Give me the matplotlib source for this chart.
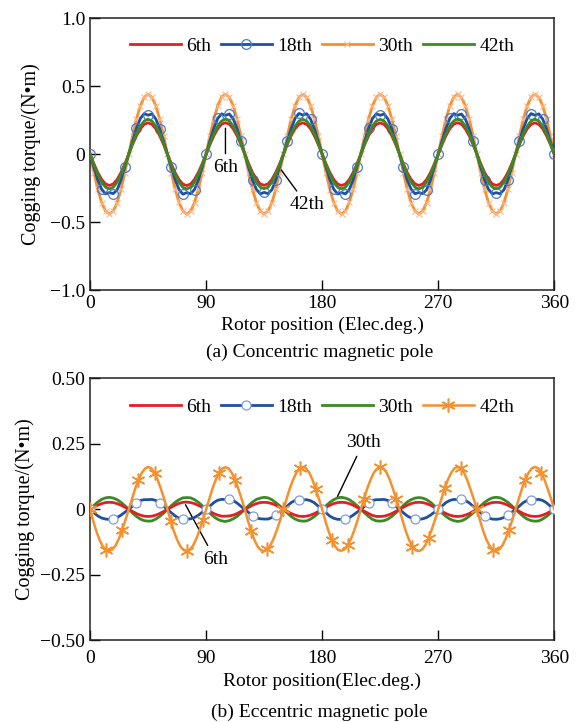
import matplotlib.pyplot as plt
import numpy as np

plt.rcParams['font.family'] = ['Liberation Serif', 'DejaVu Serif']

# rotor position grids (electrical degrees)
angle_3 = np.arange(0, 361, 3)
angle_25 = np.arange(0, 360.1, 2.5)

# (a) concentric magnetic pole, sampled every 3 deg
conc_6th = [
    0, -0.071, -0.135, -0.186, -0.219, -0.230, -0.219, -0.186, -0.135, -0.071, 0, 0.071, 0.135, 0.186, 0.219, 0.230, 0.219, 0.186, 0.135, 0.071,
    0, -0.071, -0.136, -0.187, -0.220, -0.231, -0.219, -0.185, -0.134, -0.070, 0, 0.071, 0.135, 0.186, 0.220, 0.231, 0.220, 0.186, 0.135, 0.071,
    0, -0.070, -0.135, -0.186, -0.219, -0.229, -0.219, -0.186, -0.135, -0.071, 0, 0.072, 0.136, 0.187, 0.219, 0.230, 0.219, 0.186, 0.134, 0.070,
    0, -0.071, -0.135, -0.186, -0.220, -0.230, -0.220, -0.187, -0.135, -0.071, 0, 0.071, 0.135, 0.186, 0.219, 0.229, 0.219, 0.186, 0.135, 0.071,
    0, -0.071, -0.136, -0.186, -0.219, -0.230, -0.219, -0.186, -0.135, -0.071, 0, 0.071, 0.135, 0.187, 0.220, 0.231, 0.220, 0.186, 0.135, 0.071,
    0, -0.071, -0.135, -0.186, -0.219, -0.230, -0.219, -0.186, -0.135, -0.071, 0, 0.071, 0.135, 0.186, 0.219, 0.230, 0.219, 0.186, 0.135, 0.071,
    0]
conc_18th = [
    0, -0.098, -0.190, -0.258, -0.292, -0.282, -0.290, -0.262, -0.190, -0.092, 0, 0.098, 0.190, 0.262, 0.298, 0.286, 0.296, 0.258, 0.186, 0.094,
    0, -0.097, -0.188, -0.260, -0.294, -0.283, -0.291, -0.260, -0.189, -0.093, 0, 0.099, 0.191, 0.262, 0.296, 0.285, 0.295, 0.260, 0.187, 0.093,
    0, -0.098, -0.190, -0.259, -0.292, -0.281, -0.290, -0.262, -0.191, -0.092, 0, 0.098, 0.190, 0.263, 0.299, 0.287, 0.297, 0.257, 0.186, 0.094,
    0, -0.097, -0.189, -0.258, -0.293, -0.282, -0.292, -0.261, -0.190, -0.093, 0, 0.097, 0.190, 0.261, 0.297, 0.285, 0.296, 0.258, 0.187, 0.094,
    0, -0.098, -0.191, -0.258, -0.291, -0.282, -0.290, -0.262, -0.190, -0.092, 0, 0.098, 0.189, 0.262, 0.298, 0.286, 0.295, 0.259, 0.186, 0.093,
    0, -0.098, -0.190, -0.259, -0.292, -0.283, -0.291, -0.261, -0.190, -0.092, 0, 0.098, 0.190, 0.262, 0.298, 0.286, 0.296, 0.258, 0.186, 0.094,
    0]
conc_30th = [
    0, -0.136, -0.259, -0.356, -0.418, -0.440, -0.418, -0.356, -0.259, -0.136, 0, 0.136, 0.259, 0.356, 0.418, 0.440, 0.418, 0.356, 0.259, 0.136,
    0, -0.136, -0.258, -0.355, -0.418, -0.441, -0.419, -0.356, -0.259, -0.136, 0, 0.137, 0.260, 0.356, 0.419, 0.441, 0.418, 0.355, 0.258, 0.136,
    0, -0.136, -0.259, -0.356, -0.419, -0.440, -0.418, -0.356, -0.259, -0.135, 0, 0.136, 0.259, 0.357, 0.418, 0.439, 0.418, 0.356, 0.259, 0.136,
    0, -0.137, -0.260, -0.356, -0.418, -0.440, -0.418, -0.355, -0.258, -0.136, 0, 0.136, 0.259, 0.356, 0.418, 0.440, 0.419, 0.356, 0.259, 0.136,
    0, -0.136, -0.259, -0.356, -0.418, -0.439, -0.418, -0.356, -0.259, -0.136, 0, 0.136, 0.258, 0.356, 0.418, 0.440, 0.418, 0.356, 0.260, 0.137,
    0, -0.136, -0.259, -0.356, -0.418, -0.440, -0.418, -0.356, -0.259, -0.136, 0, 0.136, 0.259, 0.356, 0.418, 0.440, 0.418, 0.356, 0.259, 0.136,
    0]
conc_42th = [
    0, -0.079, -0.150, -0.206, -0.243, -0.255, -0.243, -0.206, -0.150, -0.079, 0, 0.079, 0.150, 0.206, 0.243, 0.257, 0.243, 0.206, 0.150, 0.079,
    0, -0.079, -0.151, -0.207, -0.244, -0.256, -0.243, -0.205, -0.149, -0.078, 0, 0.079, 0.150, 0.206, 0.244, 0.257, 0.244, 0.206, 0.150, 0.079,
    0, -0.078, -0.150, -0.206, -0.243, -0.254, -0.243, -0.206, -0.150, -0.079, 0, 0.080, 0.151, 0.207, 0.243, 0.256, 0.243, 0.206, 0.149, 0.078,
    0, -0.079, -0.150, -0.206, -0.244, -0.255, -0.244, -0.207, -0.150, -0.079, 0, 0.079, 0.150, 0.206, 0.243, 0.256, 0.243, 0.206, 0.150, 0.079,
    0, -0.079, -0.151, -0.206, -0.243, -0.255, -0.243, -0.206, -0.150, -0.079, 0, 0.079, 0.150, 0.207, 0.244, 0.257, 0.244, 0.206, 0.150, 0.079,
    0, -0.079, -0.150, -0.206, -0.243, -0.255, -0.243, -0.206, -0.150, -0.079, 0, 0.079, 0.150, 0.206, 0.243, 0.257, 0.243, 0.206, 0.150, 0.079,
    0]

# (b) eccentric magnetic pole; 6th/18th/30th every 3 deg, 42th every 2.5 deg
ecc_6th = [
    0, 0.008, 0.016, 0.022, 0.026, 0.027, 0.026, 0.022, 0.016, 0.008, 0, -0.008, -0.016, -0.022, -0.026, -0.027, -0.026, -0.022, -0.016, -0.008,
    0, 0.008, 0.016, 0.023, 0.027, 0.028, 0.026, 0.022, 0.015, 0.008, 0, -0.008, -0.016, -0.022, -0.026, -0.026, -0.025, -0.022, -0.016, -0.008,
    0, 0.008, 0.016, 0.022, 0.026, 0.027, 0.026, 0.022, 0.016, 0.008, 0, -0.008, -0.016, -0.022, -0.026, -0.027, -0.026, -0.022, -0.016, -0.008,
    0, 0.008, 0.016, 0.022, 0.026, 0.027, 0.026, 0.022, 0.016, 0.008, 0, -0.008, -0.016, -0.023, -0.027, -0.027, -0.026, -0.022, -0.016, -0.008,
    0, 0.008, 0.016, 0.022, 0.026, 0.027, 0.026, 0.022, 0.016, 0.008, 0, -0.008, -0.016, -0.022, -0.026, -0.027, -0.026, -0.022, -0.016, -0.008,
    0, 0.008, 0.016, 0.022, 0.026, 0.027, 0.026, 0.022, 0.016, 0.008, 0, -0.008, -0.016, -0.022, -0.026, -0.027, -0.026, -0.022, -0.016, -0.008,
    0]
ecc_18th = [
    0, -0.013, -0.025, -0.033, -0.037, -0.038, -0.036, -0.031, -0.022, -0.011, 0, 0.013, 0.026, 0.034, 0.037, 0.037, 0.038, 0.034, 0.025, 0.012,
    0, -0.013, -0.025, -0.034, -0.038, -0.037, -0.036, -0.031, -0.022, -0.011, 0, 0.013, 0.026, 0.035, 0.038, 0.038, 0.039, 0.034, 0.024, 0.012,
    0, -0.012, -0.025, -0.033, -0.036, -0.037, -0.037, -0.031, -0.023, -0.011, 0, 0.013, 0.026, 0.034, 0.037, 0.036, 0.037, 0.033, 0.025, 0.012,
    0, -0.013, -0.026, -0.034, -0.038, -0.038, -0.036, -0.032, -0.022, -0.011, 0, 0.012, 0.025, 0.034, 0.037, 0.037, 0.038, 0.034, 0.025, 0.012,
    0, -0.013, -0.025, -0.033, -0.037, -0.038, -0.036, -0.031, -0.022, -0.011, 0, 0.013, 0.026, 0.034, 0.038, 0.037, 0.038, 0.034, 0.025, 0.012,
    0, -0.013, -0.025, -0.033, -0.037, -0.038, -0.036, -0.031, -0.022, -0.011, 0, 0.013, 0.026, 0.034, 0.037, 0.037, 0.038, 0.034, 0.025, 0.012,
    0]
ecc_30th = [
    0, 0.015, 0.028, 0.038, 0.044, 0.046, 0.043, 0.037, 0.027, 0.014, 0, -0.014, -0.027, -0.037, -0.043, -0.045, -0.044, -0.037, -0.027, -0.015,
    0, 0.014, 0.027, 0.037, 0.044, 0.045, 0.044, 0.037, 0.027, 0.014, 0, -0.015, -0.028, -0.038, -0.044, -0.046, -0.043, -0.036, -0.027, -0.014,
    0, 0.015, 0.028, 0.038, 0.043, 0.046, 0.044, 0.037, 0.026, 0.014, 0, -0.014, -0.027, -0.037, -0.043, -0.045, -0.044, -0.037, -0.027, -0.015,
    0, 0.014, 0.027, 0.037, 0.044, 0.046, 0.043, 0.037, 0.027, 0.014, 0, -0.014, -0.027, -0.038, -0.044, -0.045, -0.043, -0.037, -0.027, -0.014,
    0, 0.015, 0.028, 0.037, 0.043, 0.045, 0.043, 0.037, 0.027, 0.014, 0, -0.014, -0.027, -0.037, -0.043, -0.046, -0.044, -0.037, -0.026, -0.014,
    0, 0.014, 0.027, 0.037, 0.044, 0.046, 0.044, 0.037, 0.027, 0.014, 0, -0.014, -0.027, -0.037, -0.043, -0.045, -0.044, -0.037, -0.027, -0.015,
    0]
ecc_42th = [
    0, -0.045, -0.085, -0.118, -0.142, -0.155, -0.158, -0.152, -0.136, -0.110, -0.077, -0.040, 0, 0.041, 0.079, 0.112, 0.138, 0.155, 0.162, 0.157, 0.140, 0.112, 0.077, 0.040,
    0, -0.043, -0.083, -0.116, -0.141, -0.155, -0.159, -0.153, -0.137, -0.111, -0.078, -0.040, 0, 0.041, 0.080, 0.113, 0.139, 0.156, 0.161, 0.156, 0.139, 0.112, 0.078, 0.040,
    0, -0.044, -0.084, -0.117, -0.142, -0.156, -0.159, -0.152, -0.136, -0.110, -0.077, -0.040, 0, 0.042, 0.081, 0.114, 0.140, 0.156, 0.162, 0.157, 0.140, 0.113, 0.078, 0.040,
    0, -0.044, -0.084, -0.117, -0.141, -0.155, -0.158, -0.152, -0.137, -0.111, -0.078, -0.041, 0, 0.041, 0.080, 0.113, 0.139, 0.155, 0.161, 0.156, 0.140, 0.112, 0.077, 0.040,
    0, -0.045, -0.085, -0.118, -0.142, -0.156, -0.159, -0.153, -0.137, -0.110, -0.077, -0.040, 0, 0.041, 0.080, 0.113, 0.139, 0.156, 0.162, 0.157, 0.140, 0.112, 0.077, 0.040,
    0, -0.044, -0.084, -0.117, -0.141, -0.155, -0.158, -0.152, -0.136, -0.110, -0.077, -0.040, 0, 0.041, 0.080, 0.113, 0.139, 0.156, 0.162, 0.157, 0.140, 0.112, 0.077, 0.040,
    0]

labels = ['6th', '18th', '30th', '42th']
x_ticks = [0, 90, 180, 270, 360]

red = '#e01f26'
blue = '#1f4fa0'
orange = '#f5902f'
green = '#3b8a22'

fig = plt.figure(figsize=(5.81, 7.22), dpi=100)
ax1 = fig.add_axes([0.155, 0.598, 0.799, 0.377])
ax2 = fig.add_axes([0.155, 0.113, 0.799, 0.363])

# (a) concentric
l30, = ax1.plot(angle_3, conc_30th, color=orange, lw=2, marker='x', ms=5,
                mec='#f9b98c', mew=0.8, markevery=1, label='30th', zorder=2)
l18, = ax1.plot(angle_3, conc_18th, color=blue, lw=2, marker='o', ms=7,
                mfc='none', mec='#4a7bcf', mew=0.9, markevery=3, label='18th', zorder=3)
l6, = ax1.plot(angle_3, conc_6th, color=red, lw=2, label='6th', zorder=4)
l42, = ax1.plot(angle_3, conc_42th, color=green, lw=2, label='42th', zorder=5)

ax1.set_ylim(-1, 1)
ax1.set_yticks([-1, -0.5, 0, 0.5, 1])
ax1.set_yticklabels(['\u22121.0', '\u22120.5', '0', '0.5', '1.0'])
ax1.set_ylabel('Cogging torque/(N\u2022m)', fontsize=14.5, labelpad=6)
ax1.set_xlabel('Rotor position (Elec.deg.)', fontsize=14, labelpad=3)
ax1.legend([l6, l18, l30, l42], labels, loc='upper center', ncol=4, frameon=False,
           fontsize=14, handlelength=2.6, handletextpad=0.3, columnspacing=0.5,
           bbox_to_anchor=(0.5, 0.995))
ax1.annotate('6th', xy=(105, 0.21), xytext=(105, -0.1), fontsize=14, ha='center', va='center',
             arrowprops=dict(arrowstyle='-', color='black', lw=1))
ax1.annotate('42th', xy=(147, -0.10), xytext=(168, -0.37), fontsize=14, ha='center', va='center',
             arrowprops=dict(arrowstyle='-', color='black', lw=1))

# (b) eccentric
e6, = ax2.plot(angle_3, ecc_6th, color=red, lw=2, label='6th', zorder=3)
e18, = ax2.plot(angle_3, ecc_18th, color=blue, lw=2, marker='o', ms=6.5,
                mfc='white', mec='#7f9fd6', mew=0.9, markevery=6, label='18th', zorder=4)
e30, = ax2.plot(angle_3, ecc_30th, color=green, lw=2, label='30th', zorder=2)
e42, = ax2.plot(angle_25, ecc_42th, color=orange, lw=1.8, marker=(6, 2, 0), ms=10,
                mec=orange, mew=1.1, markevery=5, label='42th', zorder=5)

ax2.set_ylim(-0.5, 0.5)
ax2.set_yticks([-0.5, -0.25, 0, 0.25, 0.5])
ax2.set_yticklabels(['\u22120.50', '\u22120.25', '0', '0.25', '0.50'])
ax2.set_ylabel('Cogging torque/(N\u2022m)', fontsize=14.5, labelpad=4)
ax2.set_xlabel('Rotor position(Elec.deg.)', fontsize=14, labelpad=4)
ax2.legend([e6, e18, e30, e42], labels, loc='upper center', ncol=4, frameon=False,
           fontsize=14, handlelength=2.6, handletextpad=0.3, columnspacing=0.5,
           bbox_to_anchor=(0.5, 0.99))
ax2.annotate('30th', xy=(191, 0.04), xytext=(212, 0.255), fontsize=14, ha='center', va='center',
             arrowprops=dict(arrowstyle='-', color='black', lw=1))
ax2.annotate('6th', xy=(73, 0.027), xytext=(97, -0.19), fontsize=14, ha='center', va='center',
             arrowprops=dict(arrowstyle='-', color='black', lw=1))

for ax in (ax1, ax2):
    ax.set_xlim(0, 360)
    ax.set_xticks(x_ticks)
    ax.tick_params(direction='in', length=7, width=1, labelsize=14, top=False, right=False)
    for s in ax.spines.values():
        s.set_linewidth(1.1)
        s.set_color('#222222')
ax2.tick_params(axis='x', pad=7)

fig.text(0.55, 1 - 352 / 722, '(a) Concentric magnetic pole', ha='center', va='center', fontsize=14)
fig.text(0.55, 1 - 712 / 722, '(b) Eccentric magnetic pole', ha='center', va='center', fontsize=14)

fig.savefig('out.png', dpi=100)
